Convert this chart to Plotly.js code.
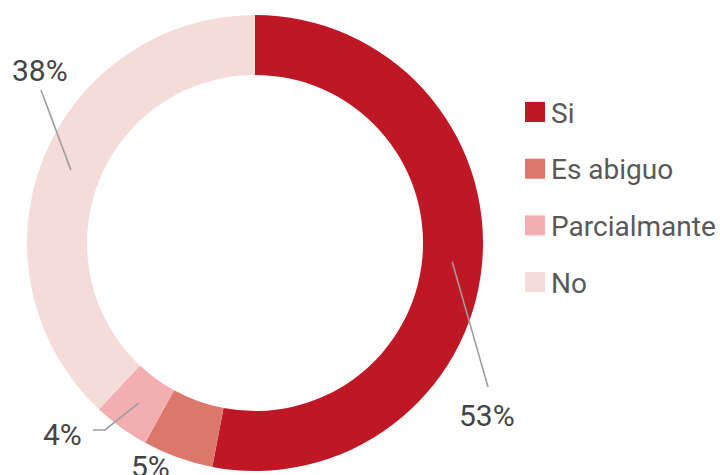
<!DOCTYPE html>
<html>
<head>
<meta charset="utf-8">
<script src="https://cdn.plot.ly/plotly-3.0.1.min.js"></script>
<style>html,body{margin:0;padding:0;background:#fff;}#chart{width:720px;height:475px;}</style>
</head>
<body>
<div id="chart"></div>
<script>
// ---- data ----
const labels = ['Si', 'Es abiguo', 'Parcialmante', 'No'];
const values = [53, 5, 4, 38];
const colors = ['#C01727', '#DC776C', '#F2AEB0', '#F5DCD9'];

// ---- layout config (pixels) ----
const W = 720, H = 475;
const cx = 255, cy = 243, rOut = 228, hole = 0.737;
const rMid = rOut * (1 + hole) / 2;
// label anchor + leader-line bend points (pixel positions of the text and line ends)
const labelCfg = [
  {tx: 487, ty: 415, pts: [[488, 387]]},
  {tx: 150, ty: 466, pts: null},
  {tx: 62,  ty: 434, pts: [[105, 430], [93, 430]]},
  {tx: 40,  ty: 70,  pts: [[41, 90]]}
];
const legendCfg = {x: 525, y0: 112, dy: 56.7, box: 20, gap: 4};

const px = x => x / W, py = y => 1 - y / H;
const total = values.reduce((a, b) => a + b, 0);

const trace = {
  type: 'pie',
  labels: labels,
  values: values,
  sort: false,
  direction: 'clockwise',
  rotation: 0,
  hole: hole,
  marker: {colors: colors, line: {width: 0}},
  textinfo: 'none',
  hoverinfo: 'label+percent',
  showlegend: false,
  domain: {x: [px(cx - rOut), px(cx + rOut)], y: [py(cy + rOut), py(cy - rOut)]}
};

const annotations = [], shapes = [];
let cum = 0;
values.forEach((v, i) => {
  const a = (cum + v / 2) / total * 2 * Math.PI;
  cum += v;
  const pct = Math.round(v / total * 100) + '%';
  const c = labelCfg[i];
  annotations.push({
    xref: 'paper', yref: 'paper', x: px(c.tx), y: py(c.ty),
    xanchor: 'center', yanchor: 'middle', showarrow: false,
    text: pct, font: {family: 'Roboto, sans-serif', size: 30, color: '#444'}
  });
  if (c.pts) {
    const tip = [cx + rMid * Math.sin(a), cy - rMid * Math.cos(a)];
    const all = [tip].concat(c.pts);
    let d = 'M' + all.map(p => px(p[0]) + ',' + py(p[1])).join(' L');
    shapes.push({type: 'path', xref: 'paper', yref: 'paper', path: d,
      line: {color: '#9e9e9e', width: 1.6}});
  }
});

// manual legend
labels.forEach((lab, i) => {
  const yc = legendCfg.y0 + i * legendCfg.dy;
  const b = legendCfg.box;
  shapes.push({type: 'rect', xref: 'paper', yref: 'paper',
    x0: px(legendCfg.x), x1: px(legendCfg.x + b), y0: py(yc + b / 2), y1: py(yc - b / 2),
    fillcolor: colors[i], line: {width: 0}});
  annotations.push({xref: 'paper', yref: 'paper',
    x: px(legendCfg.x + b + legendCfg.gap), y: py(yc + 1),
    xanchor: 'left', yanchor: 'middle', showarrow: false, text: lab,
    font: {family: 'Roboto, sans-serif', size: 28, color: '#595959'}});
});

const layout = {
  width: W, height: H,
  margin: {l: 0, r: 0, t: 0, b: 0},
  paper_bgcolor: '#fff',
  showlegend: false,
  annotations: annotations,
  shapes: shapes
};

Plotly.newPlot('chart', [trace], layout, {displayModeBar: false, staticPlot: true});
</script>
</body>
</html>
